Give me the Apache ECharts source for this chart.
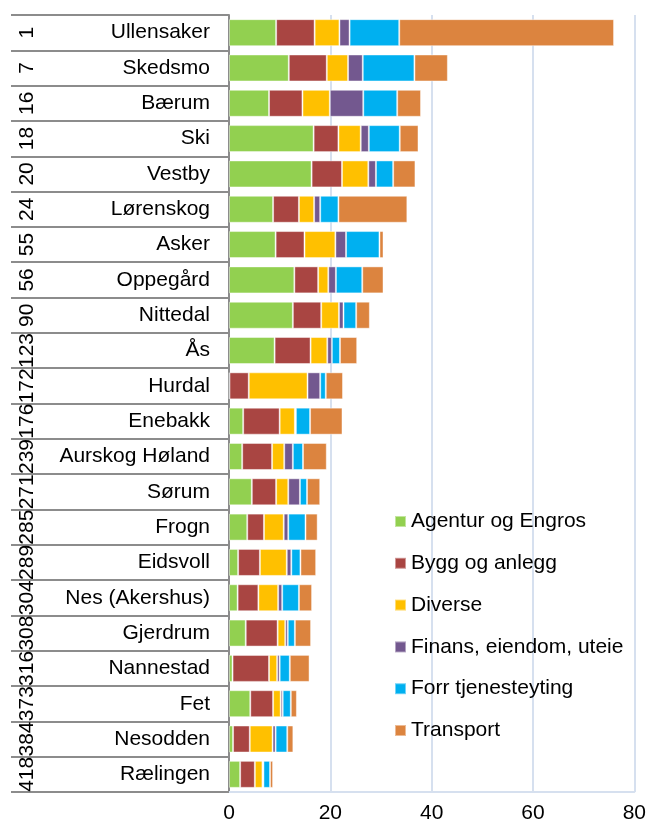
<!DOCTYPE html>
<html>
<head>
<meta charset="utf-8">
<script src="https://cdn.jsdelivr.net/npm/echarts@6/dist/echarts.min.js"></script>
<style>
  html, body { margin: 0; padding: 0; background: #fff; }
  #chart { width: 649px; height: 827px; }
</style>
</head>
<body>
<div id="chart"></div>
<script>
const ranks = ['1', '7', '16', '18', '20', '24', '55', '56', '90', '123', '172', '176', '239', '271', '285', '289', '304', '308', '316', '373', '384', '418']
const names = ['Ullensaker', 'Skedsmo', 'Bærum', 'Ski', 'Vestby', 'Lørenskog', 'Asker', 'Oppegård', 'Nittedal', 'Ås', 'Hurdal', 'Enebakk', 'Aurskog Høland', 'Sørum', 'Frogn', 'Eidsvoll', 'Nes (Akershus)', 'Gjerdrum', 'Nannestad', 'Fet', 'Nesodden', 'Rælingen']

const agentur = [9.3, 11.8, 7.9, 16.7, 16.3, 8.7, 9.2, 12.9, 12.6, 9.0, 0.1, 2.8, 2.6, 4.5, 3.6, 1.8, 1.7, 3.3, 0.7, 4.2, 0.8, 2.2]
const bygg = [7.6, 7.5, 6.6, 4.9, 6.0, 5.1, 5.7, 4.7, 5.6, 7.1, 3.8, 7.2, 5.9, 4.8, 3.3, 4.3, 4.1, 6.3, 7.2, 4.5, 3.3, 2.9]
const diverse = [4.9, 4.2, 5.4, 4.4, 5.2, 3.0, 6.1, 2.0, 3.5, 3.3, 11.6, 3.0, 2.4, 2.4, 3.9, 5.3, 3.9, 1.5, 1.6, 1.5, 4.5, 1.5]
const finans = [2.0, 2.9, 6.6, 1.6, 1.5, 1.2, 2.1, 1.5, 0.9, 0.9, 2.5, 0.2, 1.7, 2.3, 0.9, 0.9, 0.8, 0.5, 0.5, 0.4, 0.6, 0.2]
const tjeneste = [9.8, 10.2, 6.7, 6.1, 3.4, 3.6, 6.6, 5.2, 2.5, 1.6, 1.1, 2.8, 2.0, 1.4, 3.4, 1.8, 3.3, 1.4, 2.0, 1.6, 2.3, 1.3]
const transport = [42.4, 6.6, 4.7, 3.7, 4.4, 13.6, 0.8, 4.2, 2.7, 3.4, 3.4, 6.4, 4.7, 2.6, 2.4, 3.1, 2.6, 3.2, 3.9, 1.2, 1.2, 0.6]
const xTicks = [0, 20, 40, 60, 80]

const font = '"Liberation Sans", Arial, sans-serif'
const seriesList = [
  { name: 'Agentur og Engros', data: agentur, color: '#92d050' },
  { name: 'Bygg og anlegg', data: bygg, color: '#a94542' },
  { name: 'Diverse', data: diverse, color: '#ffc000' },
  { name: 'Finans, eiendom, uteie', data: finans, color: '#73588f' },
  { name: 'Forr tjenesteyting', data: tjeneste, color: '#00b0f0' },
  { name: 'Transport', data: transport, color: '#dc843f' }
]

const chart = echarts.init(document.getElementById('chart'))
const option = {
  animation: false,
  textStyle: { fontFamily: font },
  grid: { left: 229, right: 13, top: 15, bottom: 35 },
  legend: {
    orient: 'vertical',
    left: 389,
    top: 506,
    itemWidth: 11,
    itemHeight: 11,
    itemGap: 20.8,
    icon: 'rect',
    selectedMode: false,
    textStyle: { fontSize: 21, lineHeight: 20, color: '#000', fontFamily: font },
    data: seriesList.map(s => s.name)
  },
  xAxis: {
    type: 'value',
    min: xTicks[0],
    max: xTicks[xTicks.length - 1],
    interval: xTicks[1] - xTicks[0],
    axisLine: { show: true, lineStyle: { color: '#d6e0ef', width: 2 } },
    axisTick: { show: false },
    splitLine: { lineStyle: { color: '#d6e0ef', width: 2 } },
    axisLabel: { fontSize: 21, color: '#000', margin: 11, fontFamily: font }
  },
  yAxis: [
    {
      type: 'category',
      inverse: true,
      data: names,
      axisLine: { show: true, lineStyle: { color: '#8c8c8c', width: 2 } },
      axisTick: { show: true, length: 218, lineStyle: { color: '#8c8c8c', width: 2 } },
      axisLabel: { fontSize: 21, color: '#000', margin: 19, interval: 0, fontFamily: font }
    },
    {
      type: 'category',
      inverse: true,
      position: 'left',
      data: ranks,
      axisLine: { show: false },
      axisTick: { show: false },
      axisLabel: { fontSize: 21, color: '#000', rotate: 90, margin: 191, interval: 0, fontFamily: font }
    }
  ],
  series: seriesList.map(s => ({
    name: s.name,
    type: 'bar',
    stack: 'total',
    barWidth: 27,
    data: s.data,
    itemStyle: { color: s.color, borderColor: 'rgba(255,255,255,0.45)', borderWidth: 1 }
  }))
}
chart.setOption(option)
</script>
</body>
</html>
